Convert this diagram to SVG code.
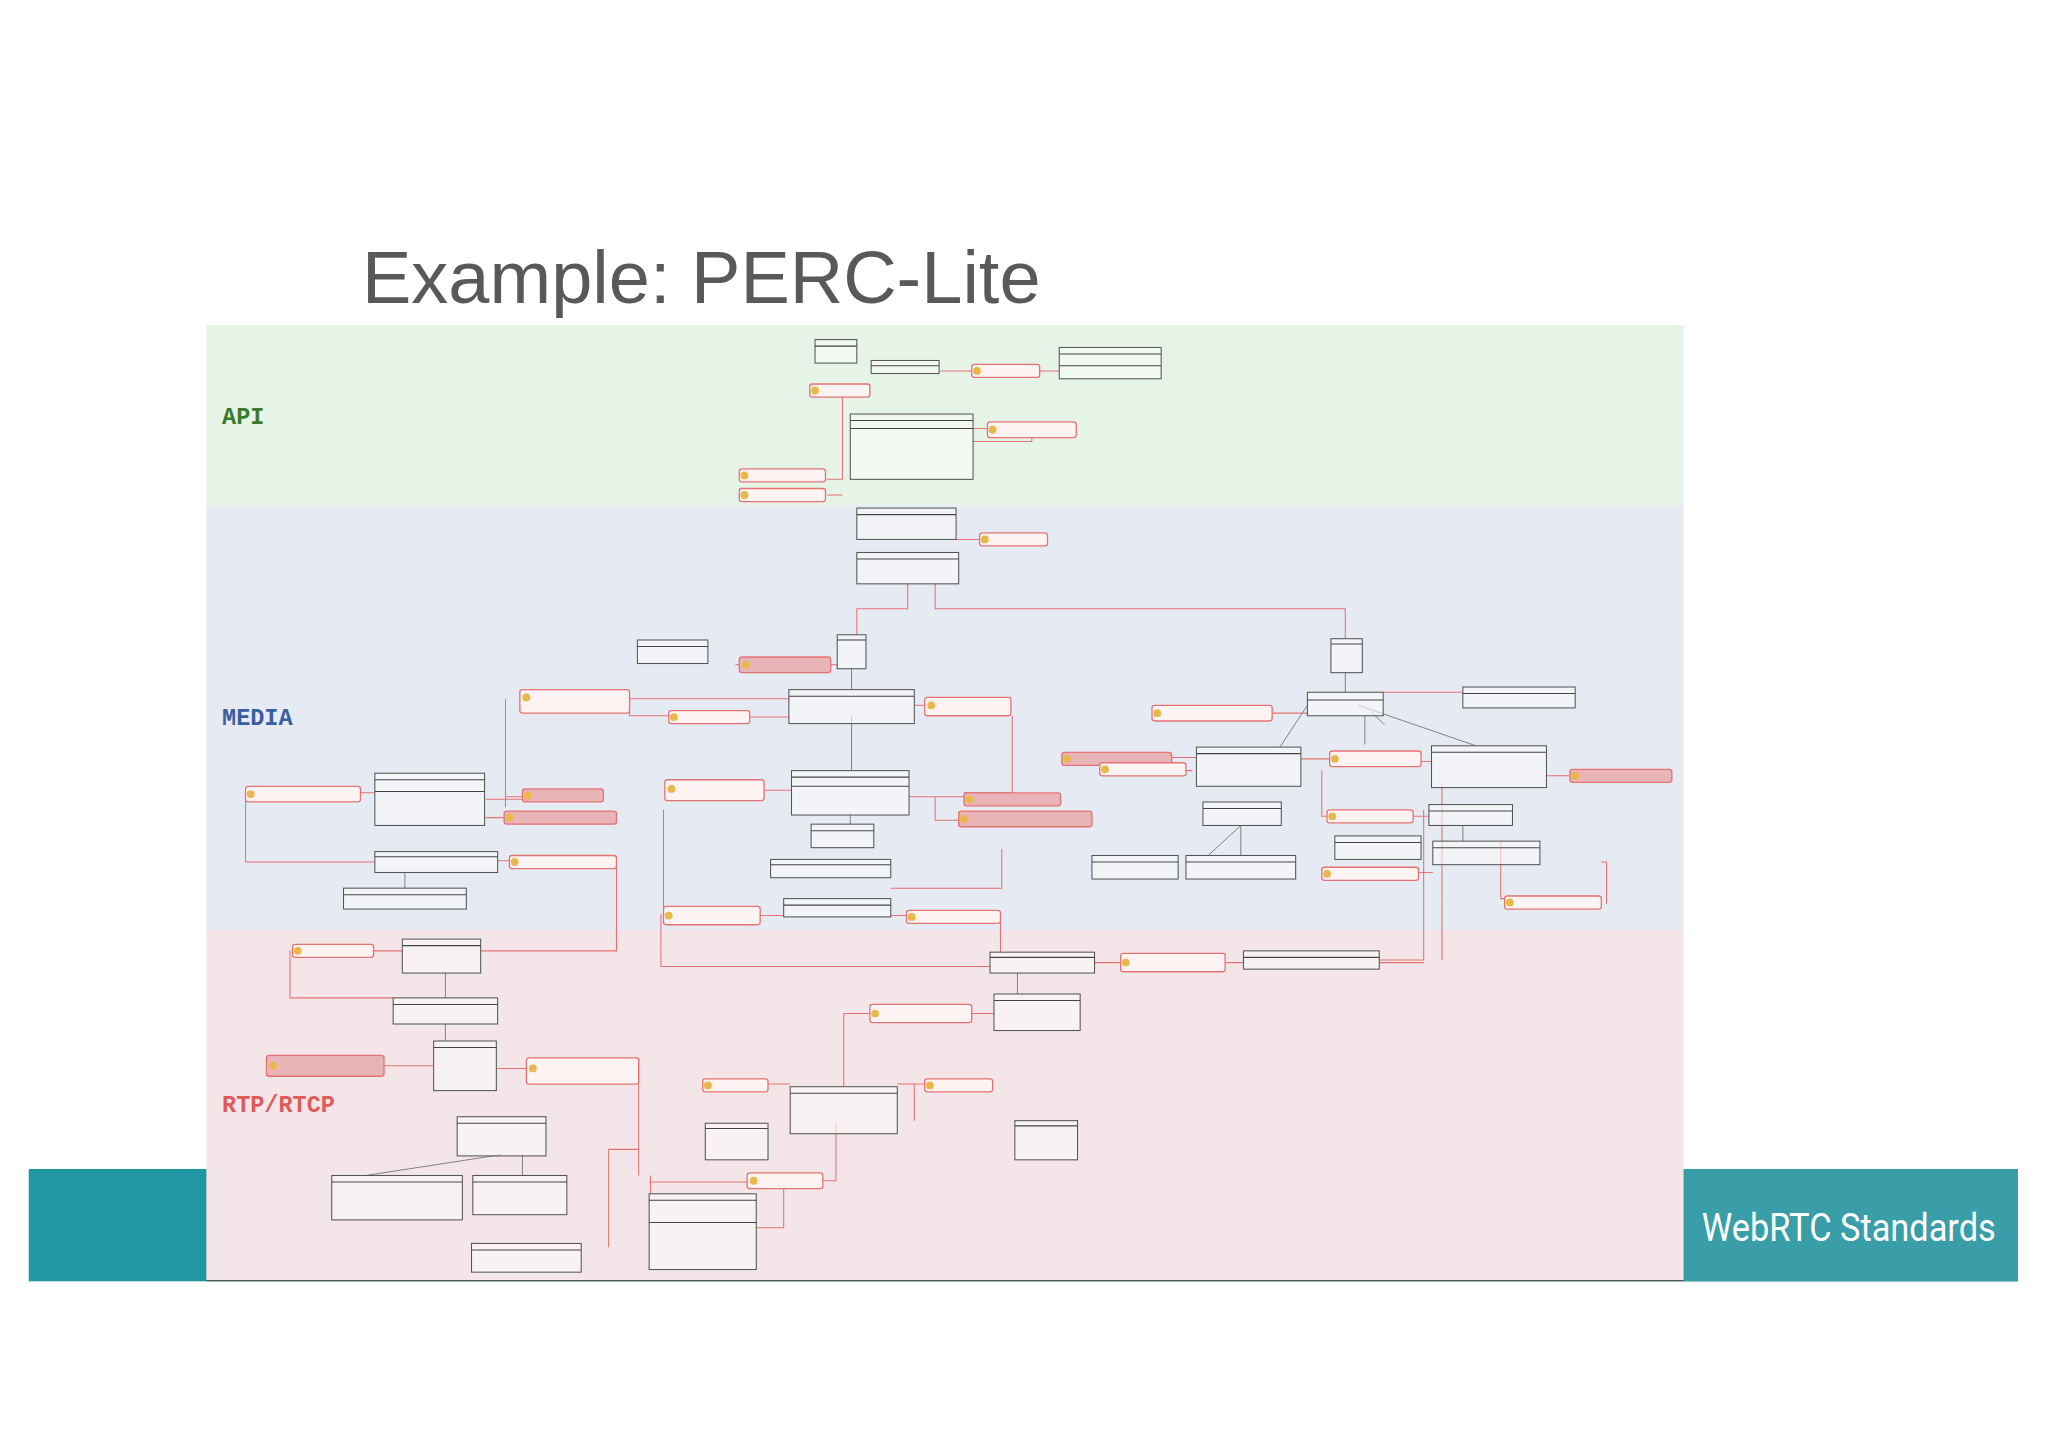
<svg xmlns="http://www.w3.org/2000/svg" width="2048" height="1447" viewBox="0 0 2048 1447">
<style>
.c{fill:#fafafa;fill-opacity:.6;stroke:#555;stroke-width:.8}
.h{stroke:#444;stroke-width:.8}
.n{fill:#fdf3f3;stroke:#e57373;stroke-width:1}
.nf{fill:#e8b4b8;stroke:#e57373;stroke-width:1}
.i{fill:#e8b84a}
.r{fill:none;stroke:#e57373;stroke-width:.8}
.g{fill:none;stroke:#777;stroke-width:.7}
.lb{font-family:"Liberation Mono",monospace;font-weight:bold;font-size:18px}
</style>
<rect width="2048" height="1447" fill="#fff"/>
<text x="362" y="303" font-family="Liberation Sans,Arial,sans-serif" font-size="74" fill="#595959">Example: PERC-Lite</text>
<g transform="scale(1.30612)">
<rect x="22" y="895" width="1523" height="86" fill="#1f98a4"/>
<rect x="1289" y="895" width="256" height="86" fill="#3a9ea8"/>
<text x="1303" y="950" font-family="Roboto,sans-serif" font-size="29" fill="#fff" textLength="225" lengthAdjust="spacingAndGlyphs">WebRTC Standards</text>
<rect x="158" y="249" width="1131" height="138" fill="#e6f4e7"/>
<rect x="158" y="387" width="1131" height="325" fill="#e6eaf3"/>
<rect x="158" y="712" width="1131" height="268" fill="#f4e6e8"/>
<line x1="158" y1="980.5" x2="1289" y2="980.5" stroke="#555" stroke-width="1"/>
<text x="170" y="325" class="lb" fill="#3a7a2a">API</text>
<text x="170" y="555" class="lb" fill="#3a5fa0">MEDIA</text>
<text x="170" y="851" class="lb" fill="#e05a5a">RTP/RTCP</text>
<g id="connectors">
<path class="r" d="M666 299H645V367H633M645 379H633M720 284H744M796 284H811M745 328H756M790 333V338H745M732 413H750M695 447V466H656V486M716 447V466H1030V489M563 509H566M636 509H641M482 535H604M482 535V548H512M574 549H604M700 540H708M775 548V607H738M387 535V618M387 610H400M386 626H372M276 607H287M188 607V660H287M372 612H400M585 605H606M696 610H738M716 610V628H734M974 546H1001M1059 530H1120M897 580H916M996 581H1018M1088 583H1096M1184 594H1202M1012 590V625H1094M1022 625H1080M908 590V590H913M1024 668H1022M1086 668H1097M1149 644V688H1152M1226 660H1230V692M1090 620V735H1056M381 659H390M472 660V728H368M286 728H308M508 620V700M508 701H600M682 701H694M766 701V730M767 650V680H682M838 737H858M938 737H952M1104 600V735M1056 737H1090M222 728V764H301M294 816H332M380 818H403M489 810V900M489 880H466V955M498 914V900M588 830H605M687 830H708M700 830V858M646 832V776H666M744 776H761M572 905H497M630 904H640V860M600 905V940H579M758 740H506V700"/>
<path class="g" d="M652 512V528M1030 515V530M1001 540L980 572M1040 540L1130 571M1050 545L1060 555M651 623V631M950 632L950 655M950 632L925 655M1120 632V644M310 668V680M341 744V764M341 784V797M384 884L280 900M400 884V900M779 745V761M652 548V590M1045 548V570"/>
</g>
<g id="n1"><rect class="c" x="624" y="260" width="32" height="18"/><line class="h" x1="624" y1="265" x2="656" y2="265"/></g>
<g id="n2"><rect class="c" x="667" y="276" width="52" height="10"/><line class="h" x1="667" y1="280" x2="719" y2="280"/></g>
<g id="n3"><rect class="c" x="811" y="266" width="78" height="24"/><line class="h" x1="811" y1="271" x2="889" y2="271"/><line class="h" x1="811" y1="280" x2="889" y2="280"/></g>
<g id="n4"><rect class="c" x="651" y="317" width="94" height="50"/><line class="h" x1="651" y1="322" x2="745" y2="322"/><line class="h" x1="651" y1="328" x2="745" y2="328"/></g>
<g id="n5"><rect class="c" x="656" y="389" width="76" height="24"/><line class="h" x1="656" y1="394" x2="732" y2="394"/></g>
<g id="n6"><rect class="c" x="656" y="423" width="78" height="24"/><line class="h" x1="656" y1="428" x2="734" y2="428"/></g>
<g id="n7"><rect class="c" x="641" y="486" width="22" height="26"/><line class="h" x1="641" y1="490" x2="663" y2="490" stroke-width="2"/></g>
<g id="n8"><rect class="c" x="488" y="490" width="54" height="18"/><line class="h" x1="488" y1="495" x2="542" y2="495"/></g>
<g id="n9"><rect class="c" x="1019" y="489" width="24" height="26"/><line class="h" x1="1019" y1="493" x2="1043" y2="493" stroke-width="2"/></g>
<g id="n10"><rect class="c" x="604" y="528" width="96" height="26"/><line class="h" x1="604" y1="533" x2="700" y2="533"/></g>
<g id="n11"><rect class="c" x="1001" y="530" width="58" height="18"/><line class="h" x1="1001" y1="536" x2="1059" y2="536"/></g>
<g id="n12"><rect class="c" x="1120" y="526" width="86" height="16"/><line class="h" x1="1120" y1="531" x2="1206" y2="531"/></g>
<g id="n13"><rect class="c" x="287" y="592" width="84" height="40"/><line class="h" x1="287" y1="597" x2="371" y2="597"/><line class="h" x1="287" y1="606" x2="371" y2="606"/></g>
<g id="n14"><rect class="c" x="606" y="590" width="90" height="34"/><line class="h" x1="606" y1="595" x2="696" y2="595"/><line class="h" x1="606" y1="602" x2="696" y2="602"/></g>
<g id="n15"><rect class="c" x="916" y="572" width="80" height="30"/><line class="h" x1="916" y1="577" x2="996" y2="577"/></g>
<g id="n16"><rect class="c" x="1096" y="571" width="88" height="32"/><line class="h" x1="1096" y1="576" x2="1184" y2="576"/></g>
<g id="n17"><rect class="c" x="621" y="631" width="48" height="18"/><line class="h" x1="621" y1="636" x2="669" y2="636"/></g>
<g id="n18"><rect class="c" x="921" y="614" width="60" height="18"/><line class="h" x1="921" y1="619" x2="981" y2="619"/></g>
<g id="n19"><rect class="c" x="1094" y="616" width="64" height="16"/><line class="h" x1="1094" y1="621" x2="1158" y2="621"/></g>
<g id="n20"><rect class="c" x="287" y="652" width="94" height="16"/><line class="h" x1="287" y1="656" x2="381" y2="656" stroke-width="2"/></g>
<g id="n21"><rect class="c" x="590" y="658" width="92" height="14"/><line class="h" x1="590" y1="662" x2="682" y2="662" stroke-width="2"/></g>
<g id="n22"><rect class="c" x="836" y="655" width="66" height="18"/><line class="h" x1="836" y1="660" x2="902" y2="660"/></g>
<g id="n23"><rect class="c" x="908" y="655" width="84" height="18"/><line class="h" x1="908" y1="660" x2="992" y2="660"/></g>
<g id="n24"><rect class="c" x="1022" y="640" width="66" height="18"/><line class="h" x1="1022" y1="645" x2="1088" y2="645"/></g>
<g id="n25"><rect class="c" x="1097" y="644" width="82" height="18"/><line class="h" x1="1097" y1="649" x2="1179" y2="649"/></g>
<g id="n26"><rect class="c" x="263" y="680" width="94" height="16"/><line class="h" x1="263" y1="685" x2="357" y2="685"/></g>
<g id="n27"><rect class="c" x="600" y="688" width="82" height="14"/><line class="h" x1="600" y1="693" x2="682" y2="693"/></g>
<g id="n28"><rect class="c" x="308" y="719" width="60" height="26"/><line class="h" x1="308" y1="724" x2="368" y2="724"/></g>
<g id="n29"><rect class="c" x="758" y="729" width="80" height="16"/><line class="h" x1="758" y1="733" x2="838" y2="733" stroke-width="2"/></g>
<g id="n30"><rect class="c" x="952" y="728" width="104" height="14"/><line class="h" x1="952" y1="733" x2="1056" y2="733"/></g>
<g id="n31"><rect class="c" x="301" y="764" width="80" height="20"/><line class="h" x1="301" y1="769" x2="381" y2="769" stroke-width="2"/></g>
<g id="n32"><rect class="c" x="761" y="761" width="66" height="28"/><line class="h" x1="761" y1="766" x2="827" y2="766"/></g>
<g id="n33"><rect class="c" x="332" y="797" width="48" height="38"/><line class="h" x1="332" y1="802" x2="380" y2="802"/></g>
<g id="n34"><rect class="c" x="605" y="832" width="82" height="36"/><line class="h" x1="605" y1="837" x2="687" y2="837"/></g>
<g id="n35"><rect class="c" x="540" y="860" width="48" height="28"/><line class="h" x1="540" y1="864" x2="588" y2="864" stroke-width="2"/></g>
<g id="n36"><rect class="c" x="777" y="858" width="48" height="30"/><line class="h" x1="777" y1="862" x2="825" y2="862" stroke-width="2"/></g>
<g id="n37"><rect class="c" x="350" y="855" width="68" height="30"/><line class="h" x1="350" y1="860" x2="418" y2="860"/></g>
<g id="n38"><rect class="c" x="254" y="900" width="100" height="34"/><line class="h" x1="254" y1="905" x2="354" y2="905" stroke-width="2"/></g>
<g id="n39"><rect class="c" x="362" y="900" width="72" height="30"/><line class="h" x1="362" y1="905" x2="434" y2="905" stroke-width="2"/></g>
<g id="n40"><rect class="c" x="497" y="914" width="82" height="58"/><line class="h" x1="497" y1="919" x2="579" y2="919"/><line class="h" x1="497" y1="936" x2="579" y2="936"/></g>
<g id="n41"><rect class="c" x="361" y="952" width="84" height="22"/><line class="h" x1="361" y1="957" x2="445" y2="957"/></g>
<g id="notes">
<g id="m1"><rect class="n" x="620" y="294" width="46" height="10" rx="2"/><circle class="i" cx="624" cy="299" r="3"/></g>
<g id="m2"><rect class="n" x="744" y="279" width="52" height="10" rx="2"/><circle class="i" cx="748" cy="284" r="3"/></g>
<g id="m3"><rect class="n" x="756" y="323" width="68" height="12" rx="2"/><circle class="i" cx="760" cy="329" r="3"/></g>
<g id="m4"><rect class="n" x="566" y="359" width="66" height="10" rx="2"/><circle class="i" cx="570" cy="364" r="3"/></g>
<g id="m5"><rect class="n" x="566" y="374" width="66" height="10" rx="2"/><circle class="i" cx="570" cy="379" r="3"/></g>
<g id="m6"><rect class="n" x="750" y="408" width="52" height="10" rx="2"/><circle class="i" cx="754" cy="413" r="3"/></g>
<g id="m7"><rect class="nf" x="566" y="503" width="70" height="12" rx="2"/><circle class="i" cx="571" cy="509" r="3"/></g>
<g id="m8"><rect class="n" x="398" y="528" width="84" height="18" rx="2"/><circle class="i" cx="403" cy="534" r="3"/></g>
<g id="m9"><rect class="n" x="512" y="544" width="62" height="10" rx="2"/><circle class="i" cx="516" cy="549" r="3"/></g>
<g id="m10"><rect class="n" x="708" y="534" width="66" height="14" rx="2"/><circle class="i" cx="713" cy="540" r="3"/></g>
<g id="m11"><rect class="n" x="882" y="540" width="92" height="12" rx="2"/><circle class="i" cx="886" cy="546" r="3"/></g>
<g id="m12"><rect class="n" x="188" y="602" width="88" height="12" rx="2"/><circle class="i" cx="192" cy="608" r="3"/></g>
<g id="m13"><rect class="nf" x="400" y="604" width="62" height="10" rx="2"/><circle class="i" cx="404" cy="609" r="3"/></g>
<g id="m14"><rect class="nf" x="386" y="621" width="86" height="10" rx="2"/><circle class="i" cx="390" cy="626" r="3"/></g>
<g id="m15"><rect class="n" x="509" y="597" width="76" height="16" rx="2"/><circle class="i" cx="514" cy="604" r="3"/></g>
<g id="m16"><rect class="nf" x="738" y="607" width="74" height="10" rx="2"/><circle class="i" cx="742" cy="612" r="3"/></g>
<g id="m17"><rect class="nf" x="734" y="621" width="102" height="12" rx="2"/><circle class="i" cx="738" cy="627" r="3"/></g>
<g id="m18"><rect class="nf" x="813" y="576" width="84" height="10" rx="2"/><circle class="i" cx="817" cy="581" r="3"/></g>
<g id="m19"><rect class="n" x="842" y="584" width="66" height="10" rx="2"/><circle class="i" cx="846" cy="589" r="3"/></g>
<g id="m20"><rect class="n" x="1018" y="575" width="70" height="12" rx="2"/><circle class="i" cx="1022" cy="581" r="3"/></g>
<g id="m21"><rect class="nf" x="1202" y="589" width="78" height="10" rx="2"/><circle class="i" cx="1206" cy="594" r="3"/></g>
<g id="m22"><rect class="n" x="1016" y="620" width="66" height="10" rx="2"/><circle class="i" cx="1020" cy="625" r="3"/></g>
<g id="m23"><rect class="n" x="390" y="655" width="82" height="10" rx="2"/><circle class="i" cx="394" cy="660" r="3"/></g>
<g id="m24"><rect class="n" x="1012" y="664" width="74" height="10" rx="2"/><circle class="i" cx="1016" cy="669" r="3"/></g>
<g id="m25"><rect class="n" x="508" y="694" width="74" height="14" rx="2"/><circle class="i" cx="512" cy="701" r="3"/></g>
<g id="m26"><rect class="n" x="694" y="697" width="72" height="10" rx="2"/><circle class="i" cx="698" cy="702" r="3"/></g>
<g id="m27"><rect class="n" x="1152" y="686" width="74" height="10" rx="2"/><circle class="i" cx="1156" cy="691" r="3"/></g>
<g id="m28"><rect class="n" x="224" y="723" width="62" height="10" rx="2"/><circle class="i" cx="228" cy="728" r="3"/></g>
<g id="m29"><rect class="n" x="858" y="730" width="80" height="14" rx="2"/><circle class="i" cx="862" cy="737" r="3"/></g>
<g id="m30"><rect class="n" x="666" y="769" width="78" height="14" rx="2"/><circle class="i" cx="670" cy="776" r="3"/></g>
<g id="m31"><rect class="nf" x="204" y="808" width="90" height="16" rx="2"/><circle class="i" cx="209" cy="816" r="3"/></g>
<g id="m32"><rect class="n" x="403" y="810" width="86" height="20" rx="2"/><circle class="i" cx="408" cy="818" r="3"/></g>
<g id="m33"><rect class="n" x="538" y="826" width="50" height="10" rx="2"/><circle class="i" cx="542" cy="831" r="3"/></g>
<g id="m34"><rect class="n" x="708" y="826" width="52" height="10" rx="2"/><circle class="i" cx="712" cy="831" r="3"/></g>
<g id="m35"><rect class="n" x="572" y="898" width="58" height="12" rx="2"/><circle class="i" cx="577" cy="904" r="3"/></g>
</g>
</g>
</svg>
